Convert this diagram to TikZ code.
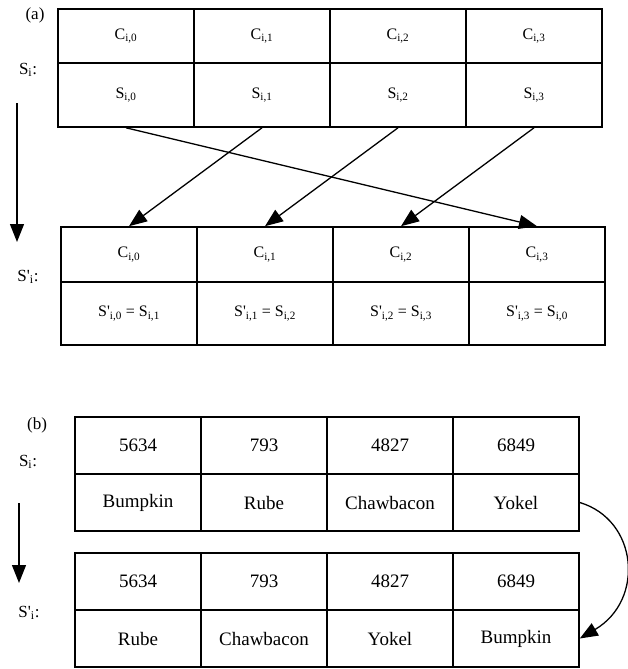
\documentclass[tikz,border=0pt]{standalone}
\usepackage{fontspec}
\setmainfont{Liberation Serif}
\usetikzlibrary{arrows.meta}

\newcommand{\pr}{\textquotesingle}

\begin{document}
\begin{tikzpicture}[x=1pt, y=-1pt,
	acell/.style={draw, line width=1.6pt, minimum width=136pt, minimum height=#1, inner sep=0pt, font=\fontsize{16}{18}\selectfont},
	bcell/.style={draw, line width=1.6pt, minimum width=126pt, minimum height=57pt, inner sep=0pt, font=\fontsize{19}{21}\selectfont},
	lbl/.style={inner sep=0pt, font=\fontsize{17}{19}\selectfont},
	flow/.style={line width=1.3pt, -{Triangle[length=18pt, width=14pt]}}]
	\useasboundingbox (0,0) rectangle (628,669);

	% (a) state before
	\node[lbl] (la) at (35,15) {(a)};
	\node[lbl] (las) at (28,70) {S\textsubscript{i}:};
	\node[acell=54pt] (tc0) at (126,36) {C\textsubscript{i,0}};
	\node[acell=54pt] (tc1) at (262,36) {C\textsubscript{i,1}};
	\node[acell=54pt] (tc2) at (398,36) {C\textsubscript{i,2}};
	\node[acell=54pt] (tc3) at (534,36) {C\textsubscript{i,3}};
	\node[acell=64pt] (ts0) at (126,95) {S\textsubscript{i,0}};
	\node[acell=64pt] (ts1) at (262,95) {S\textsubscript{i,1}};
	\node[acell=64pt] (ts2) at (398,95) {S\textsubscript{i,2}};
	\node[acell=64pt] (ts3) at (534,95) {S\textsubscript{i,3}};

	% (a) state after
	\node[lbl] (lap) at (28,277) {S\pr\textsubscript{i}:};
	\node[acell=55pt] (bc0) at (129,254.5) {C\textsubscript{i,0}};
	\node[acell=55pt] (bc1) at (265,254.5) {C\textsubscript{i,1}};
	\node[acell=55pt] (bc2) at (401,254.5) {C\textsubscript{i,2}};
	\node[acell=55pt] (bc3) at (537,254.5) {C\textsubscript{i,3}};
	\node[acell=63pt] (bs0) at (129,313.5) {S\pr\textsubscript{i,0} = S\textsubscript{i,1}};
	\node[acell=63pt] (bs1) at (265,313.5) {S\pr\textsubscript{i,1} = S\textsubscript{i,2}};
	\node[acell=63pt] (bs2) at (401,313.5) {S\pr\textsubscript{i,2} = S\textsubscript{i,3}};
	\node[acell=63pt] (bs3) at (537,313.5) {S\pr\textsubscript{i,3} = S\textsubscript{i,0}};

	\coordinate (va1) at (17,103);
	\coordinate (va2) at (17,242);
	\draw[flow] (va1) -- (va2);
	\draw[flow] (ts0.south) -- (bc3.north);
	\draw[flow] (ts1.south) -- (bc0.north);
	\draw[flow] (ts2.south) -- (bc1.north);
	\draw[flow] (ts3.south) -- (bc2.north);

	% (b) example
	\node[lbl] (lb) at (37,425) {(b)};
	\node[lbl] (lbs) at (28,462) {S\textsubscript{i}:};
	\node[bcell] (xc0) at (138,445.5) {5634};
	\node[bcell] (xc1) at (264,445.5) {793};
	\node[bcell] (xc2) at (390,445.5) {4827};
	\node[bcell] (xc3) at (516,445.5) {6849};
	\node[bcell] (xs0) at (138,502.5) {Bumpkin};
	\node[bcell] (xs1) at (264,502.5) {Rube};
	\node[bcell] (xs2) at (390,502.5) {Chawbacon};
	\node[bcell] (xs3) at (516,502.5) {Yokel};

	\node[lbl] (lbp) at (29,613) {S\pr\textsubscript{i}:};
	\node[bcell] (yc0) at (138,581.5) {5634};
	\node[bcell] (yc1) at (264,581.5) {793};
	\node[bcell] (yc2) at (390,581.5) {4827};
	\node[bcell] (yc3) at (516,581.5) {6849};
	\node[bcell] (ys0) at (138,638.5) {Rube};
	\node[bcell] (ys1) at (264,638.5) {Chawbacon};
	\node[bcell] (ys2) at (390,638.5) {Yokel};
	\node[bcell] (ys3) at (516,638.5) {Bumpkin};

	\coordinate (vb1) at (19,503);
	\coordinate (vb2) at (19,583);
	\draw[flow] (vb1) -- (vb2);
	\draw[flow] (xs3.east) .. controls (638,520) and (645,600) .. (ys3.east);
\end{tikzpicture}
\end{document}
